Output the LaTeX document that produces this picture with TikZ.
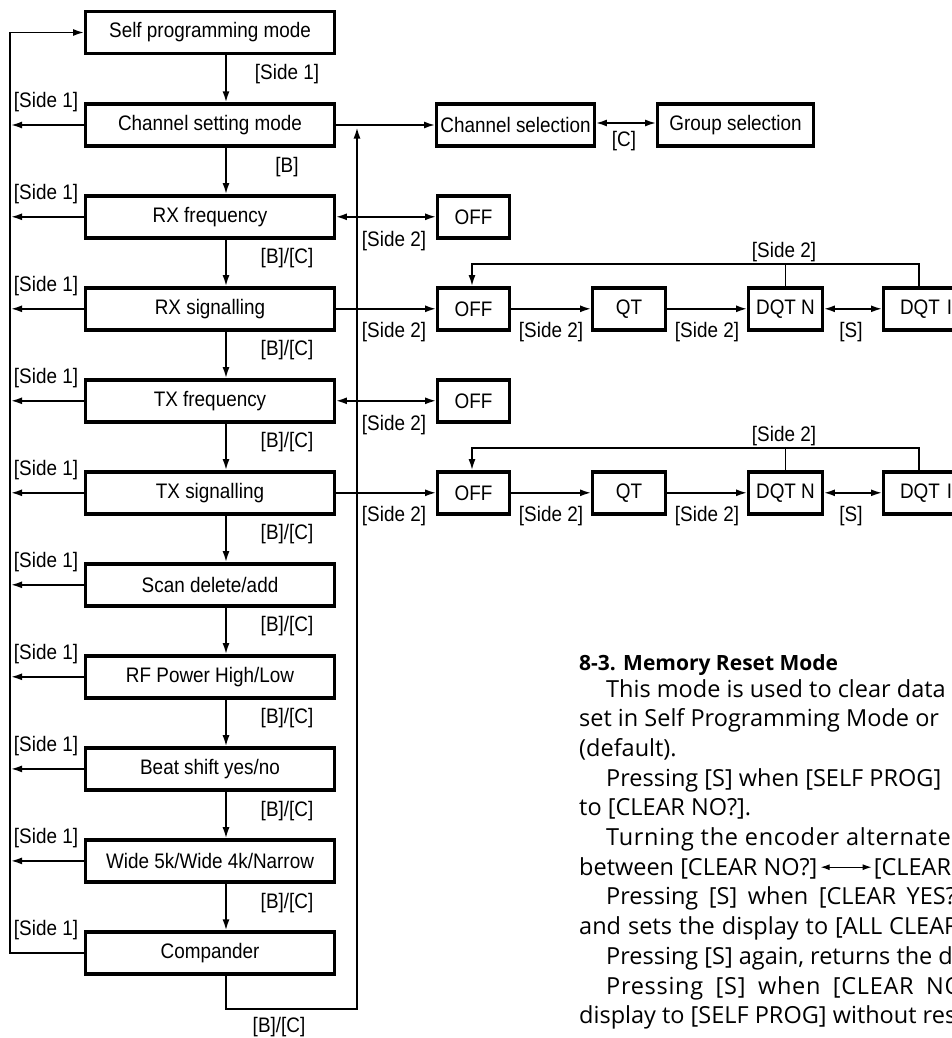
\documentclass[tikz,border=0pt]{standalone}
\usepackage{fontspec}
\setmainfont{Liberation Sans}
\newfontfamily\diagfont[FakeStretch=0.9]{Liberation Sans}
\newfontfamily\bodyfont{Open Sans}
\usetikzlibrary{arrows.meta}
\begin{document}
\begin{tikzpicture}[x=1pt,y=-1pt,
  box/.style={draw, line width=3.4pt, minimum height=42pt, inner sep=0pt,
    font=\diagfont\fontsize{21}{24}\selectfont},
  mainbox/.style={box, minimum width=248.5pt},
  lbl/.style={inner sep=0pt, font=\diagfont\fontsize{21}{24}\selectfont},
  con/.style={line width=1.7pt, -{Latex[length=11pt,width=7pt]}},
  dcon/.style={line width=1.7pt, {Latex[length=11pt,width=7pt]}-{Latex[length=11pt,width=7pt]}},
  smalldcon/.style={line width=1.1pt, {Latex[length=9pt,width=6pt]}-{Latex[length=9pt,width=6pt]}},
  plainline/.style={line width=1.7pt},
  bodytext/.style={anchor=base west, inner sep=0pt, font=\bodyfont\fontsize{23.5}{28}\selectfont},
  headtext/.style={anchor=base west, inner sep=0pt, font=\bodyfont\bfseries\fontsize{21}{28}\selectfont},
]
\useasboundingbox (0,0) rectangle (951,1038);
\fill[white] (0,0) rectangle (951,1038);

% helper coordinates
\coordinate (A) at (226,0);   % down-arrow column
\coordinate (L) at (11,0);    % left arrow tips
\coordinate (V) at (10,0);    % left return line
\coordinate (bot) at (357,1009);
\coordinate (R) at (357,127.5);

% main column
\node[mainbox] (m0) at (210,32.5) {Self programming mode};
\node[mainbox] (m1) at (210,125) {Channel setting mode};
\node[mainbox] (m2) at (210,216.8) {RX frequency};
\node[mainbox] (m3) at (210,308.8) {RX signalling};
\node[mainbox] (m4) at (210,400.8) {TX frequency};
\node[mainbox] (m5) at (210,492.8) {TX signalling};
\node[mainbox] (m6) at (210,584.8) {Scan delete/add};
\node[mainbox] (m7) at (210,676.8) {RF Power High/Low};
\node[mainbox] (m8) at (210,768.9) {Beat shift yes/no};
\node[mainbox] (m9) at (210,860.9) {Wide 5k/Wide 4k/Narrow};
\node[mainbox] (m10) at (210,953) {Compander};

% down arrows and their labels
\foreach \a/\b/\t in {m0/m1/{[Side 1]}, m1/m2/{[B]}, m2/m3/{[B]/[C]}, m3/m4/{[B]/[C]},
  m4/m5/{[B]/[C]}, m5/m6/{[B]/[C]}, m6/m7/{[B]/[C]}, m7/m8/{[B]/[C]},
  m8/m9/{[B]/[C]}, m9/m10/{[B]/[C]}}{
  \draw[con] (\a.south -| A) -- (\b.north -| A);
  \node[lbl] (lab-\a) at ([yshift=-19pt]\a.south -| 287,0) {\t};
}

% left arrows with [Side 1]
\foreach \m in {m1,m2,m3,m4,m5,m6,m7,m8,m9}{
  \draw[con] (\m.west) -- (\m.west -| L);
}
\foreach \m in {m1,m2,m3,m4,m5,m6,m7,m8,m9,m10}{
  \node[lbl] (s1-\m) at (\m.north -| 46,0) {[Side 1]};
}
\draw[con] (m10.west) -- (m10.west -| V) -- (m0.west -| V) -- (m0.west);

% right return loop
\draw[con] (m10.south -| A) |- (bot) -- (R);
\node[lbl] (lab-bot) at (279,1027) {[B]/[C]};

% channel selection
\node[box, minimum width=157.5pt] (cs) at (515.5,125) {Channel selection};
\node[box, minimum width=155.5pt] (gs) at (735.5,125) {Group selection};
\draw[con] (m1.east) -- (cs.west);
\draw[dcon] ([yshift=2pt]cs.east) -- ([yshift=2pt]gs.west);
\node[lbl] (lab-c) at (624,141) {[C]};

% RX frequency OFF
\node[box, minimum width=71.5pt] (off1) at (473.5,216.8) {OFF};
\draw[dcon] (m2.east) -- (off1.west);
\node[lbl] (lab-o1) at (394,241) {[Side 2]};

% TX frequency OFF
\node[box, minimum width=71.5pt] (off2) at (473.5,400.8) {OFF};
\draw[dcon] (m4.east) -- (off2.west);
\node[lbl] (lab-o2) at (394,425) {[Side 2]};

% RX signalling chain
\node[box, minimum width=71.5pt] (offa) at (473.5,308.8) {OFF};
\node[box, minimum width=72.5pt] (qta) at (629,308.8) {QT};
\node[box, minimum width=73.5pt] (dna) at (785.5,308.8) {DQT N};
\node[box, minimum width=74.6pt, text width=70pt, align=left] (dia) at (921,308.8) {\hspace*{14pt}DQT I};
\draw[con] (m3.east) -- (offa.west);
\draw[con] (offa.east) -- (qta.west);
\draw[con] (qta.east) -- (dna.west);
\draw[dcon] (dna.east) -- (dia.west);
\coordinate (fba) at (472,264);
\draw[con] (dia.north -| 919,0) |- (fba) -- (offa.north -| fba);
\draw[plainline] (dna.north) -- (dna.north |- fba);
\node[lbl] (la1) at (394,332) {[Side 2]};
\node[lbl] (la2) at (551,332) {[Side 2]};
\node[lbl] (la3) at (707,332) {[Side 2]};
\node[lbl] (la4) at (851,332) {[S]};
\node[lbl] (la5) at (784,252) {[Side 2]};

% TX signalling chain
\node[box, minimum width=71.5pt] (offb) at (473.5,492.8) {OFF};
\node[box, minimum width=72.5pt] (qtb) at (629,492.8) {QT};
\node[box, minimum width=73.5pt] (dnb) at (785.5,492.8) {DQT N};
\node[box, minimum width=74.6pt, text width=70pt, align=left] (dib) at (921,492.8) {\hspace*{14pt}DQT I};
\draw[con] (m5.east) -- (offb.west);
\draw[con] (offb.east) -- (qtb.west);
\draw[con] (qtb.east) -- (dnb.west);
\draw[dcon] (dnb.east) -- (dib.west);
\coordinate (fbb) at (472,448);
\draw[con] (dib.north -| 919,0) |- (fbb) -- (offb.north -| fbb);
\draw[plainline] (dnb.north) -- (dnb.north |- fbb);
\node[lbl] (lb1) at (394,516) {[Side 2]};
\node[lbl] (lb2) at (551,516) {[Side 2]};
\node[lbl] (lb3) at (707,516) {[Side 2]};
\node[lbl] (lb4) at (851,516) {[S]};
\node[lbl] (lb5) at (784,436) {[Side 2]};

% text block
\node[headtext] (h) at (579,670) {8-3. Memory Reset Mode};
\node[bodytext] (t0) at (606,697) {This mode is used to clear data};
\node[bodytext] (t1) at (579,726.7) {set in Self Programming Mode or};
\node[bodytext] (t2) at (579,756.4) {(default).};
\node[bodytext] (t3) at (606,786.1) {Pressing [S] when [SELF PROG]};
\node[bodytext] (t4) at (579,815.8) {to [CLEAR NO?].};
\node[bodytext] (t5) at (606,845.5) {\addfontfeature{LetterSpace=3}Turning the encoder alternates};
\node[bodytext] (t6a) at (579,875.2) {between [CLEAR NO?]};
\node[bodytext] (t6b) at ([xshift=56pt]t6a.base east) {[CLEAR YES?]};
\draw[smalldcon] ([xshift=3pt,yshift=8pt]t6a.base east) -- ([xshift=-2pt,yshift=8pt]t6b.base west);
\node[bodytext] (t7) at (606,904.9) {\spaceskip=10.6pt Pressing [S] when [CLEAR YES?]};
\node[bodytext] (t8) at (579,934.6) {\spaceskip=7pt and sets the display to [ALL CLEAR]};
\node[bodytext] (t9) at (606,964.3) {Pressing [S] again, returns the display};
\node[bodytext] (t10) at (606,994) {\addfontfeature{LetterSpace=3}\spaceskip=12.5pt Pressing [S] when [CLEAR NO?]};
\node[bodytext] (t11) at (579,1023.7) {display to [SELF PROG] without resetting};
\end{tikzpicture}
\end{document}
